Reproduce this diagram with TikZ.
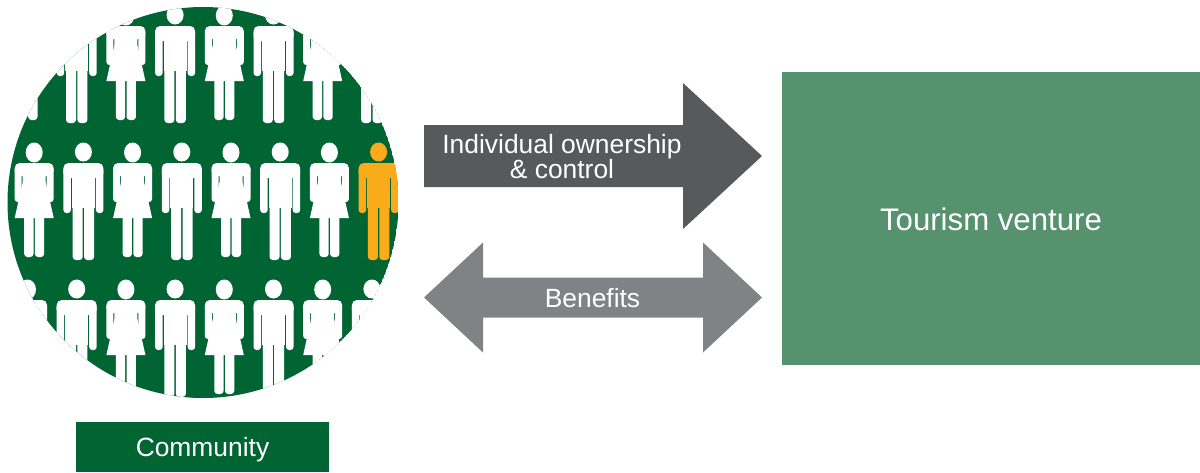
\documentclass[tikz,border=0pt]{standalone}
\usepackage{fontspec}
\setmainfont{Liberation Sans}
\definecolor{cgreen}{RGB}{0,101,51}
\definecolor{figorange}{RGB}{249,171,26}
\definecolor{darkarrow}{RGB}{88,89,91}
\definecolor{lightarrow}{RGB}{128,130,133}
\definecolor{venture}{RGB}{85,146,109}
\tikzset{
  lbl/.style={text=white, inner sep=0pt, anchor=base, font=\fontsize{13.2}{12.5}\selectfont},
  bigl/.style={text=white, inner sep=0pt, anchor=base, font=\fontsize{15.6}{18}\selectfont},
  man/.pic={
    \fill (0,10) ellipse [x radius=8.5, y radius=9.5];
    \fill[rounded corners=2.5pt] (-20,21) rectangle (20,36);
    \fill[rounded corners=1.5pt] (-20,25) rectangle (-12.5,71);
    \fill[rounded corners=1.5pt] (12.5,25) rectangle (20,71);
    \fill (-11.5,25) rectangle (11.5,66);
    \fill[rounded corners=1.6pt] (-10.7,55) rectangle (-0.7,118);
    \fill[rounded corners=1.6pt] (0.7,55) rectangle (10.7,118);
  },
  woman/.pic={
    \fill (0,10.5) ellipse [x radius=8.5, y radius=10];
    \fill[rounded corners=2.5pt] (-19.5,21) rectangle (19.5,34);
    \fill[rounded corners=1.5pt] (-19.5,25) rectangle (-12.5,60);
    \fill[rounded corners=1.5pt] (12.5,25) rectangle (19.5,60);
    \fill (-11.5,25) -- (11.5,25) -- (11.5,40) -- (19.5,76) -- (-19.5,76) -- (-11.5,40) -- cycle;
    \fill[rounded corners=1.6pt] (-10,70) rectangle (-0.7,115);
    \fill[rounded corners=1.6pt] (0.7,70) rectangle (10,115);
  }
}
\begin{document}
\begin{tikzpicture}[x=0.5pt, y=-0.5pt]
\useasboundingbox (0,0) rectangle (1200,472);
% community circle
\begin{scope}
  \clip (203,202.5) circle (195.5);
  \fill[cgreen] (203,202.5) circle (195.5);
  \begin{scope}[color=white]
    \foreach \i in {0,2,4,6} {
      \pic at ({27.5+49.2*\i},5) {woman};
      \pic at ({34.2+49.2*\i},142) {woman};
      \pic at ({27.5+49.2*\i},279) {woman};
    }
    \foreach \i in {1,3,5,7} {
      \pic at ({27.5+49.2*\i},5) {man};
      \pic at ({27.5+49.2*\i},279) {man};
    }
    \foreach \i in {1,3,5} {
      \pic at ({34.2+49.2*\i},142) {man};
    }
  \end{scope}
  \pic[color=figorange] at ({34.2+49.2*7},142) {man};
\end{scope}
% community label
\fill[cgreen] (76,422) rectangle (329,472);
\node[lbl] (comm) at (202.5,456) {Community};
% top arrow
\fill[darkarrow] (424,125) -- (683,125) -- (683,83) -- (762,156) -- (683,229) -- (683,187) -- (424,187) -- cycle;
\node[lbl] (own1) at (562,153) {Individual ownership};
\node[lbl] (own2) at (562,178) {\& control};
% bottom double arrow
\fill[lightarrow] (424,297.5) -- (483,242.5) -- (483,277.5) -- (703,277.5) -- (703,242.5) -- (762,297.5) -- (703,352.5) -- (703,317.5) -- (483,317.5) -- (483,352.5) -- cycle;
\node[lbl] (ben) at (592.5,307) {Benefits};
% tourism venture
\fill[venture] (782,72) rectangle (1200,365);
\node[bigl] (tour) at (991,230) {Tourism venture};
\end{tikzpicture}
\end{document}
